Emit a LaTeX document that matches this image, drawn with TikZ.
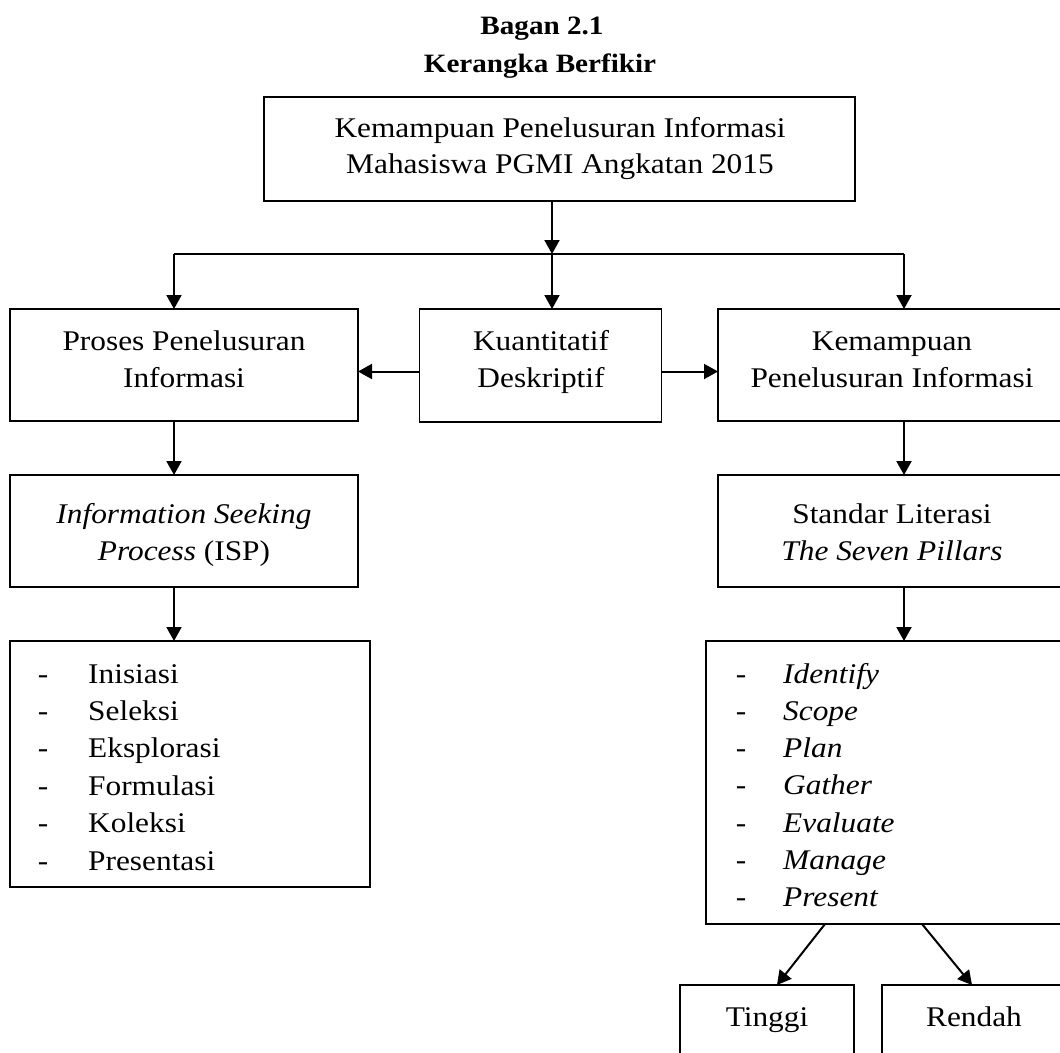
\documentclass[tikz,border=0pt]{standalone}
\usepackage{fontspec}
\setmainfont{Liberation Serif}[FakeStretch=1.1]
\usetikzlibrary{arrows.meta}
\newcommand\fs{\fontsize{28.5}{37}\selectfont}
\newcommand\ftitle{\fontsize{26.5}{38}\selectfont\bfseries}
\tikzset{
  box/.style={draw, line width=1.5pt, inner sep=0pt, outer sep=0pt},
  txt/.style={anchor=base, inner sep=0pt, outer sep=0pt, font=\fs},
  ttl/.style={anchor=base, inner sep=0pt, outer sep=0pt, font=\ftitle},
  dashl/.style={anchor=base, inner sep=0pt, font=\fs},
  item/.style={anchor=base west, inner sep=0pt, font=\fs},
  arr/.style={line width=2pt, -{Triangle[length=14pt,width=15pt]}},
  plain/.style={line width=2pt},
}
\begin{document}
\begin{tikzpicture}[x=1pt,y=-1pt]
\useasboundingbox (0,0) rectangle (1060,1052);
\clip (0,0) rectangle (1060,1052);
% title
\node[ttl] (t1) at (542,34) {Bagan 2.1};
\node[ttl] (t2) at (540,72) {Kerangka Berfikir};
% boxes
\node[box, minimum width=591pt, minimum height=104pt] (top) at (559.5,149) {};
\node[box, minimum width=348pt, minimum height=112pt] (proses) at (184,365) {};
\node[box, minimum width=242pt, minimum height=113pt] (kuan) at (540.5,365.5) {};
\node[box, minimum width=360pt, minimum height=112pt] (kemampuan) at (898,365) {};
\node[box, minimum width=348pt, minimum height=112pt] (isp) at (184,531) {};
\node[box, minimum width=360pt, minimum height=112pt] (standar) at (898,531) {};
\node[box, minimum width=360pt, minimum height=246pt] (listL) at (190,764) {};
\node[box, minimum width=372pt, minimum height=283pt] (listR) at (892,782.5) {};
\node[box, minimum width=174pt, minimum height=100pt] (tinggi) at (767,1035) {};
\node[box, minimum width=200pt, minimum height=100pt] (rendah) at (982,1035) {};
% texts
\node[txt] (topa) at (560,137) {Kemampuan Penelusuran Informasi};
\node[txt] (topb) at (560,173) {Mahasiswa PGMI Angkatan 2015};
\node[txt] (pra) at (184,350) {Proses Penelusuran};
\node[txt] (prb) at (184,387) {Informasi};
\node[txt] (kua) at (541,350) {Kuantitatif};
\node[txt] (kub) at (541,387) {Deskriptif};
\node[txt] (kema) at (892,350) {Kemampuan};
\node[txt] (kemb) at (892,387) {Penelusuran Informasi};
\node[txt] (ispa) at (184,523) {\itshape Information Seeking};
\node[txt] (ispb) at (184,560) {\textit{Process} (ISP)};
\node[txt] (sta) at (892,523) {Standar Literasi};
\node[txt] (stb) at (892,560) {\itshape The Seven Pillars};
\foreach \w [count=\i from 0] in {Inisiasi,Seleksi,Eksplorasi,Formulasi,Koleksi,Presentasi}{
  \node[dashl] (ld\i) at (43,683+37.4*\i) {-};
  \node[item] (li\i) at (88,683+37.4*\i) {\w};
}
\foreach \w [count=\i from 0] in {Identify,Scope,Plan,Gather,Evaluate,Manage,Present}{
  \node[dashl] (rd\i) at (741,683+37.3*\i) {-};
  \node[item] (ri\i) at (783,683+37.3*\i) {\itshape \w};
}
\node[txt] (tt) at (767,1026) {Tinggi};
\node[txt] (rt) at (974,1026) {Rendah};
% connectors
\coordinate (jc) at (552,254);
\coordinate (jl) at (174,254);
\coordinate (jr) at (904,254);
\draw[arr] (top.south -| jc) -- (jc);
\draw[plain] (jl) -- (jr);
\draw[arr] (jl) -- (proses.north -| jl);
\draw[arr] (jc) -- (kuan.north -| jc);
\draw[arr] (jr) -- (kemampuan.north -| jr);
\draw[arr] ([yshift=-6pt]kuan.west) -- ([yshift=-6pt]kuan.west -| proses.east);
\draw[arr] ([yshift=-6pt]kuan.east) -- ([yshift=-6pt]kuan.east -| kemampuan.west);
\draw[arr] (proses.south -| jl) -- (isp.north -| jl);
\draw[arr] (isp.south -| jl) -- (listL.north -| jl);
\draw[arr] (kemampuan.south -| jr) -- (standar.north -| jr);
\draw[arr] (standar.south -| jr) -- (listR.north -| jr);
\draw[arr] ([xshift=119pt]listR.south west) -- ([xshift=97pt]tinggi.north west);
\draw[arr] ([xshift=216pt]listR.south west) -- ([xshift=90pt]rendah.north west);
\end{tikzpicture}
\end{document}
